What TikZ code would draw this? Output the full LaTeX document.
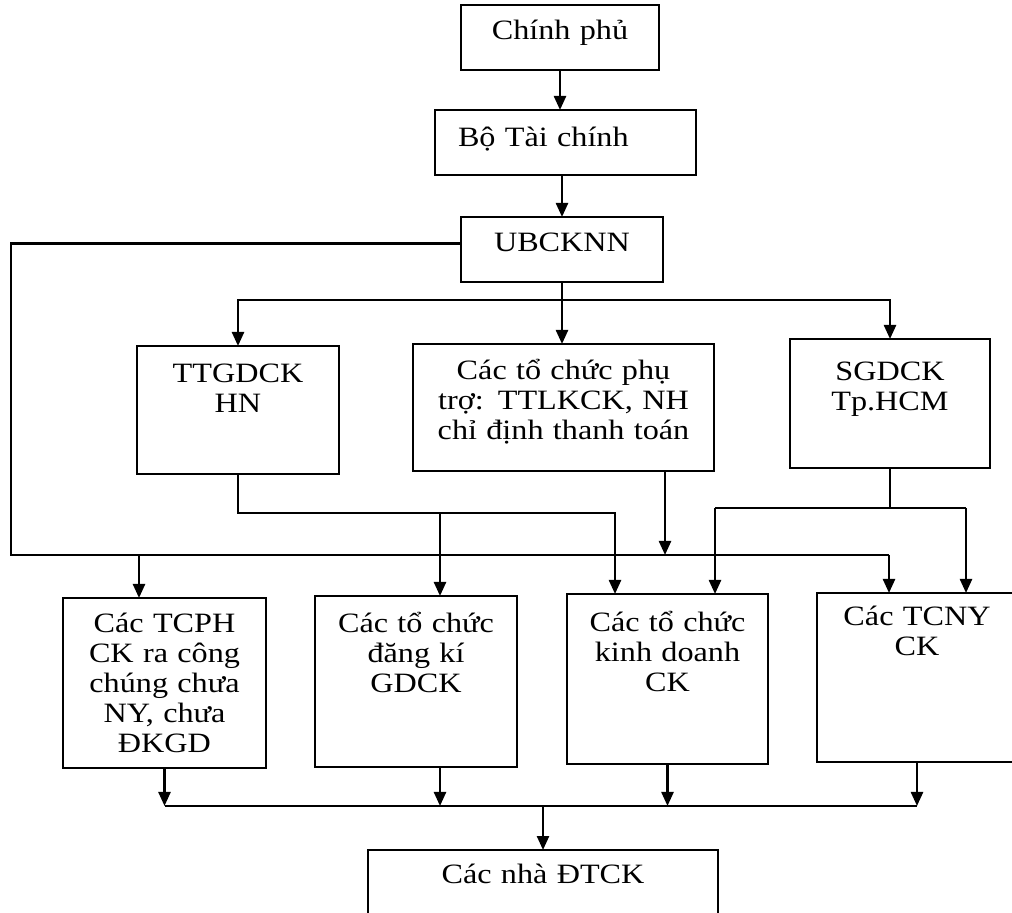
\documentclass[tikz,border=0pt]{standalone}
\usepackage{fontspec}
\setmainfont{Liberation Serif}[FakeStretch=1.15]
\usetikzlibrary{arrows.meta}
\tikzset{
	>={Triangle[length=7pt,width=6pt]},
	blk/.style={draw, line width=1.2pt, anchor=north west, inner sep=0pt, outer sep=0pt, align=center},
	conn/.style={line width=1.2pt}
}
\begin{document}
\begin{tikzpicture}[x=0.5pt,y=-0.5pt,font=\fontsize{14}{15}\selectfont]
		\clip (0,0) rectangle (1012,913);
		%draw boxes
		\node[blk, text width=99pt, text height=17.5pt, text depth=15pt] (gov) at (461,5) {Chính phủ};
		\node[blk, text width=107.5pt, inner xsep=11.5pt, align=left, text height=18.5pt, text depth=14pt] (mof) at (435,110) {Bộ Tài chính};
		\node[blk, text width=101pt, text height=17.5pt, text depth=15pt] (ub) at (461,217) {UBCKNN};
		\node[blk, text width=101pt, text height=18.5pt, text depth=45.5pt] (tt) at (137,346) {TTGDCK\\HN};
		\node[blk, text width=150.5pt, text height=18pt, text depth=45.5pt] (pt) at (413,344) {Các tổ chức phụ\\trợ: TTLKCK, NH\\chỉ định thanh toán};
		\node[blk, text width=100pt, text height=21pt, text depth=43.5pt] (sg) at (790,339) {SGDCK\\Tp.HCM};
		\node[blk, text width=101.5pt, text height=17.5pt, text depth=67.5pt] (b1) at (63,598) {Các TCPH\\CK ra công\\chúng chưa\\NY, chưa\\ĐKGD};
		\node[blk, text width=101pt, text height=18.5pt, text depth=67pt] (b2) at (315,596) {Các tổ chức\\đăng kí\\GDCK};
		\node[blk, text width=100.5pt, text height=19pt, text depth=66pt] (b3) at (567,594) {Các tổ chức\\kinh doanh\\CK};
		\node[blk, text width=100pt, text height=16.5pt, text depth=68pt] (b4) at (817,593) {Các TCNY\\CK};
		\node[blk, text width=175pt, text height=16.5pt, text depth=23.5pt] (bot) at (368,850) {Các nhà ĐTCK};
		%junction points
		\coordinate (hub) at (562,300);
		\coordinate (lft) at (11,555);
		\coordinate (rgt) at (889,555);
		\coordinate (j1) at (139,555);
		\coordinate (p1) at (665,555);
		\coordinate (k1) at (615,513);
		\coordinate (k2) at (440,513);
		\coordinate (s1) at (715,508);
		\coordinate (s2) at (966,508);
		\coordinate (m) at (543,806);
		%draw top chain
		\draw[conn,->] (gov.south) -- (gov.south |- mof.north);
		\draw[conn,->] (ub.north |- mof.south) -- (ub.north);
		\draw[conn,->] (ub.south) -- (ub.south |- pt.north);
		\draw[conn,->] (hub) -| (tt.north);
		\draw[conn,->] (hub) -| (sg.north);
		%draw long line from UBCKNN
		\draw[conn] ([yshift=3pt]ub.west) -| (lft) -- (rgt);
		\draw[conn,->] (rgt) -- (rgt |- b4.north);
		\draw[conn,->] (j1) -- (j1 |- b1.north);
		\draw[conn,->] (pt.south -| p1) -- (p1);
		%draw lines from TTGDCK and SGDCK
		\draw[conn,->] (tt.south) |- (k1) -- (k1 |- b3.north);
		\draw[conn,->] (k2) -- (k2 |- b2.north);
		\draw[conn] (sg.south) -- (sg.south |- s1);
		\draw[conn] (s1) -- (s2);
		\draw[conn,->] (s1) -- (s1 |- b3.north);
		\draw[conn,->] (s2) -- (s2 |- b4.north);
		%draw bottom collector
		\draw[conn] (b1.south |- m) -- (b4.south |- m);
		\draw[conn,->] (b1.south) -- (b1.south |- m);
		\draw[conn,->] (b2.south -| k2) -- (k2 |- m);
		\draw[conn,->] (b3.south) -- (b3.south |- m);
		\draw[conn,->] (b4.south) -- (b4.south |- m);
		\draw[conn,->] (m) -- (bot.north);
	\end{tikzpicture}
\end{document}
